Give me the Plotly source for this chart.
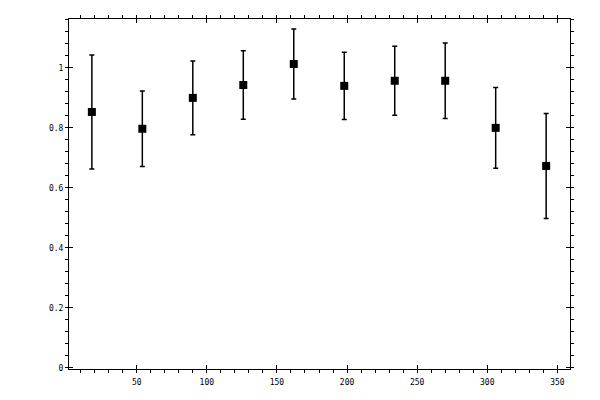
import plotly.graph_objects as go

# bin centres (degrees) and measured ratio with its error
angle = [18, 54, 90, 126, 162, 198, 234, 270, 306, 342]
ratio = [0.853, 0.797, 0.900, 0.943, 1.013, 0.940, 0.957, 0.957, 0.800, 0.673]
ratio_err = [0.190, 0.126, 0.123, 0.114, 0.117, 0.112, 0.115, 0.126, 0.135, 0.175]

x_range = [1.7, 359.0]
y_range = [-0.004, 1.163]

FONT = dict(family="DejaVu Sans Mono", size=8, color="black")

fig = go.Figure()

fig.add_trace(go.Scatter(
    x=angle,
    y=ratio,
    mode="markers",
    marker=dict(symbol="square", size=8, color="black"),
    error_y=dict(type="data", array=ratio_err, color="black", thickness=1.5, width=2.5),
    showlegend=False,
    hoverinfo="skip",
))

# dummy trace so the overlay axes (outer tick marks) get drawn
fig.add_trace(go.Scatter(
    x=[None], y=[None], xaxis="x2", yaxis="y2",
    mode="markers", showlegend=False, hoverinfo="skip",
))

# page body has an 8px margin, so the figure is a bit smaller and shifted
fig.update_layout(
    width=584,
    height=384,
    margin=dict(l=61, r=22, t=11, b=23, autoexpand=False),
    paper_bgcolor="white",
    plot_bgcolor="white",
    font=FONT,
    xaxis=dict(
        range=x_range,
        tickmode="linear", tick0=0, dtick=50,
        ticks="inside", ticklen=4, tickwidth=1, tickcolor="black",
        showline=True, linecolor="black", linewidth=1, mirror="ticks",
        showgrid=False, zeroline=False,
        tickfont=FONT, ticklabelstandoff=5,
    ),
    yaxis=dict(
        range=y_range,
        tickmode="linear", tick0=0, dtick=0.2,
        ticks="inside", ticklen=4, tickwidth=1, tickcolor="black",
        showline=True, linecolor="black", linewidth=1, mirror="ticks",
        showgrid=False, zeroline=False,
        tickfont=FONT, ticklabelstandoff=3,
    ),
    xaxis2=dict(
        overlaying="x", matches="x", range=x_range,
        tickmode="linear", tick0=0, dtick=10,
        ticks="outside", ticklen=3, tickwidth=1, tickcolor="black",
        mirror="ticks", showline=False, showgrid=False, zeroline=False,
        showticklabels=False,
    ),
    yaxis2=dict(
        overlaying="y", matches="y", range=y_range,
        tickmode="linear", tick0=0, dtick=0.04,
        ticks="outside", ticklen=3, tickwidth=1, tickcolor="black",
        mirror="ticks", showline=False, showgrid=False, zeroline=False,
        showticklabels=False,
    ),
)

fig.write_html("out.html")
